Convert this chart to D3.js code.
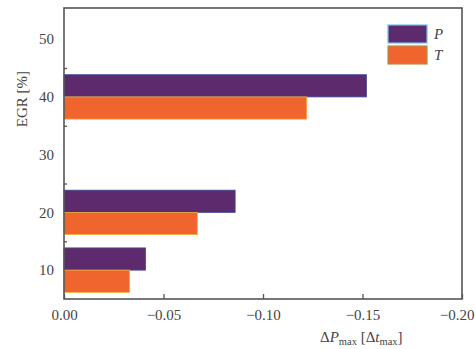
<!DOCTYPE html>
<html>
<head>
<meta charset="utf-8">
<script src="https://cdn.jsdelivr.net/npm/d3@7/dist/d3.min.js"></script>
<style>
  html, body { margin: 0; padding: 0; background: #fff; }
  svg { display: block; }
  text { font-family: "Liberation Serif", "Times New Roman", serif; fill: #444; }
</style>
</head>
<body>
<svg id="chart" width="475" height="349"></svg>
<script>
// EGR levels and the relative change of peak pressure (P) and peak temperature (T)
const egrLevels = [10, 20, 40];
const seriesNames = ["P", "T"];
const pValues = [-0.041, -0.086, -0.152];
const tValues = [-0.033, -0.067, -0.122];
const xTicks = [0, -0.05, -0.10, -0.15, -0.20];
const yTicks = [10, 20, 30, 40, 50];
const yMinorTicks = [15, 25, 35, 45];

const colors = { P: "#5c2a6d", T: "#f0642e" };
const edges = { P: "#3f4f9a", T: "#f5b03a" };
const legendEdges = { P: "#6fc3e8", T: "#b88a4a" };

const svg = d3.select("#chart");
const margin = { left: 64, top: 8, right: 475 - 462, bottom: 349 - 299 };
const W = 475 - margin.left - margin.right;
const H = 349 - margin.top - margin.bottom;

const x = d3.scaleLinear().domain([0, -0.20]).range([0, W]);
const y = d3.scaleLinear().domain([5, 55.4]).range([H, 0]);
const halfBand = 3.85; // each bar spans this many EGR units

const g = svg.append("g").attr("transform", `translate(${margin.left},${margin.top})`);

// bars: P above the EGR level, T below it
const rows = egrLevels.map((e, i) => ({ egr: e, P: pValues[i], T: tValues[i] }));
seriesNames.forEach((s, k) => {
  g.selectAll(".bar-" + s)
    .data(rows)
    .join("rect")
    .attr("class", "bar-" + s)
    .attr("x", x(0))
    .attr("y", d => k === 0 ? y(d.egr + halfBand) : y(d.egr))
    .attr("width", d => x(d[s]) - x(0))
    .attr("height", y(0) - y(halfBand))
    .attr("fill", colors[s])
    .attr("stroke", edges[s])
    .attr("stroke-width", 0.8);
});

// x axis: ticks point inward
const xAxis = d3.axisBottom(x)
  .tickValues(xTicks)
  .tickSize(-5)
  .tickPadding(10)
  .tickFormat(d => d === 0 ? "0.00" : "\u2212" + d3.format(".2f")(-d));
const gx = g.append("g").attr("transform", `translate(0,${H})`).call(xAxis);
gx.select(".domain").remove();
gx.selectAll(".tick line").attr("stroke", "#555").attr("stroke-width", 1.3);
gx.selectAll(".tick text").style("font-size", "15px").attr("fill", "#555");
// keep the last label inside the page
gx.selectAll(".tick text").filter(d => d === -0.20)
  .attr("text-anchor", "end").attr("x", 475 - margin.left - W - 1);

// y axis: labels only, minor ticks inside
const yAxis = d3.axisLeft(y).tickValues(yTicks).tickSize(0).tickPadding(10).tickFormat(d3.format("d"));
const gy = g.append("g").call(yAxis);
gy.select(".domain").remove();
gy.selectAll(".tick text").style("font-size", "15px").attr("fill", "#555");

const yMinor = d3.axisLeft(y).tickValues(yMinorTicks).tickSize(-3).tickFormat("");
const gym = g.append("g").call(yMinor);
gym.select(".domain").remove();
gym.selectAll(".tick line").attr("stroke", "#555").attr("stroke-width", 1.3);

// frame
g.append("rect")
  .attr("x", 0).attr("y", 0).attr("width", W).attr("height", H)
  .attr("fill", "none").attr("stroke", "#555").attr("stroke-width", 1.6);

// legend
const legend = g.append("g").attr("transform", `translate(${388 - margin.left},${25 - margin.top})`);
seriesNames.forEach((s, k) => {
  const row = legend.append("g").attr("transform", `translate(0,${k * 21})`);
  row.append("rect").attr("width", 39).attr("height", 18)
    .attr("fill", colors[s]).attr("stroke", legendEdges[s]).attr("stroke-width", 1.2);
  row.append("text").attr("x", 46).attr("y", 14)
    .style("font-size", "15px").style("font-style", "italic").attr("fill", "#444").text(s);
});

// axis titles
const xt = svg.append("text").attr("x", 320).attr("y", 342).style("font-size", "15px");
xt.append("tspan").text("\u0394");
xt.append("tspan").style("font-style", "italic").text("P");
xt.append("tspan").attr("dy", 3).style("font-size", "10.5px").text("max");
xt.append("tspan").attr("dy", -3).text(" [\u0394");
xt.append("tspan").style("font-style", "italic").text("t");
xt.append("tspan").attr("dy", 3).style("font-size", "10.5px").text("max");
xt.append("tspan").attr("dy", -3).text("]");

svg.append("text")
  .attr("transform", "translate(27,99) rotate(-90)")
  .attr("text-anchor", "middle")
  .style("font-size", "15px")
  .text("EGR [%]");
</script>
</body>
</html>
